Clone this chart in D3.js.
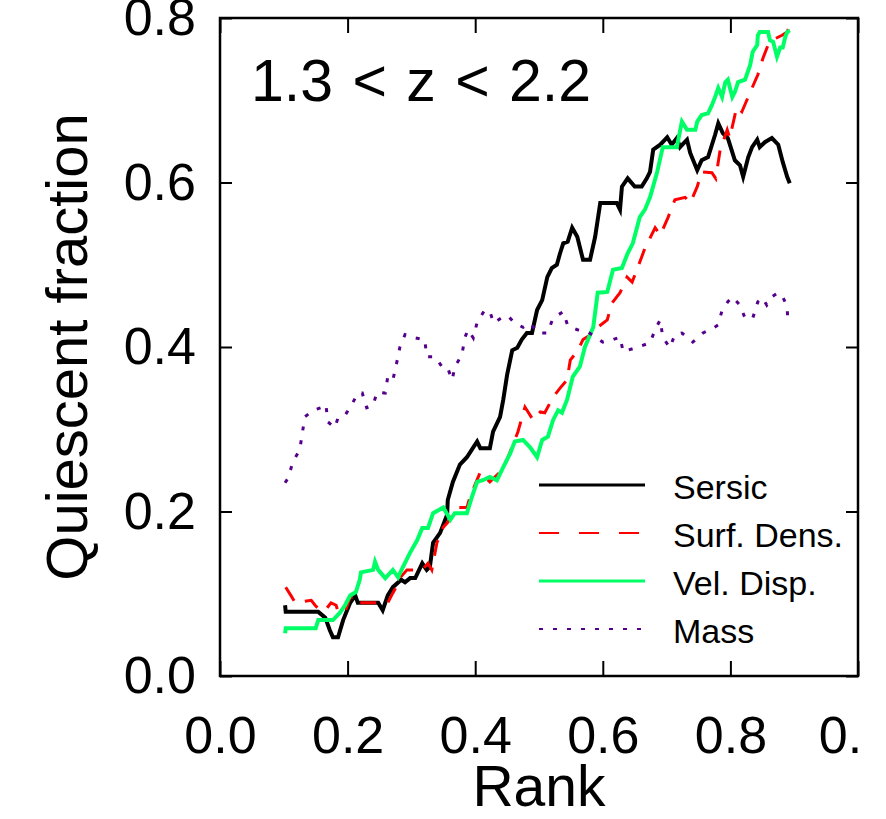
<!DOCTYPE html>
<html>
<head>
<meta charset="utf-8">
<script src="https://cdn.jsdelivr.net/npm/d3@7"></script>
<style>
  body { margin: 0; background: #fff; }
  svg text { font-family: "Liberation Sans", Arial, Helvetica, sans-serif; fill: #000; }
</style>
</head>
<body>
<div id="chart"></div>
<script>
// running quiescent fraction vs. rank as [rank, fraction]
const sersic = [
  [0.102,0.086],[0.103,0.078],[0.154,0.078],[0.165,0.071],[0.172,0.056],[0.177,0.047],[0.185,0.047],
  [0.193,0.068],[0.204,0.089],[0.212,0.098],[0.216,0.089],[0.248,0.089],[0.255,0.080],[0.263,0.098],
  [0.271,0.108],[0.284,0.117],[0.290,0.114],[0.298,0.119],[0.306,0.119],[0.317,0.137],[0.324,0.129],
  [0.329,0.133],[0.334,0.162],[0.345,0.174],[0.356,0.196],[0.357,0.214],[0.365,0.236],[0.376,0.257],
  [0.387,0.266],[0.397,0.278],[0.403,0.285],[0.408,0.277],[0.423,0.277],[0.428,0.297],[0.439,0.315],
  [0.444,0.336],[0.450,0.366],[0.458,0.396],[0.466,0.399],[0.473,0.409],[0.481,0.417],[0.489,0.417],
  [0.497,0.445],[0.505,0.457],[0.513,0.485],[0.520,0.496],[0.528,0.500],[0.533,0.514],[0.538,0.526],
  [0.545,0.528],[0.552,0.545],[0.560,0.534],[0.569,0.506],[0.580,0.506],[0.588,0.534],[0.596,0.575],
  [0.622,0.575],[0.627,0.567],[0.630,0.595],[0.639,0.605],[0.650,0.595],[0.661,0.595],[0.669,0.605],
  [0.674,0.613],[0.679,0.640],[0.690,0.646],[0.701,0.655],[0.708,0.646],[0.716,0.654],[0.721,0.643],
  [0.732,0.652],[0.737,0.636],[0.748,0.615],[0.755,0.627],[0.765,0.631],[0.776,0.658],[0.781,0.672],
  [0.788,0.660],[0.796,0.654],[0.807,0.627],[0.815,0.621],[0.820,0.607],[0.828,0.631],[0.834,0.643],
  [0.842,0.652],[0.846,0.643],[0.854,0.649],[0.865,0.654],[0.875,0.646],[0.882,0.625],[0.889,0.607],
  [0.893,0.599]
];

const surfDens = [
  [0.103,0.108],[0.111,0.098],[0.118,0.089],[0.143,0.092],[0.149,0.086],[0.157,0.080],[0.165,0.080],
  [0.174,0.089],[0.182,0.086],[0.185,0.078],[0.196,0.078],[0.204,0.096],[0.212,0.095],[0.213,0.089],
  [0.252,0.089],[0.263,0.089],[0.271,0.101],[0.276,0.108],[0.282,0.119],[0.293,0.129],[0.317,0.129],
  [0.326,0.137],[0.332,0.129],[0.340,0.162],[0.350,0.181],[0.357,0.187],[0.373,0.205],[0.387,0.205],
  [0.392,0.218],[0.408,0.248],[0.423,0.236],[0.439,0.248],[0.450,0.263],[0.467,0.297],[0.478,0.327],
  [0.491,0.311],[0.502,0.321],[0.509,0.320],[0.522,0.339],[0.533,0.350],[0.544,0.360],[0.549,0.384],
  [0.561,0.396],[0.569,0.409],[0.585,0.417],[0.592,0.424],[0.607,0.433],[0.614,0.453],[0.627,0.466],
  [0.638,0.485],[0.646,0.479],[0.655,0.497],[0.666,0.520],[0.682,0.545],[0.690,0.536],[0.702,0.557],
  [0.713,0.579],[0.729,0.582],[0.737,0.575],[0.748,0.595],[0.755,0.613],[0.771,0.612],[0.777,0.605],
  [0.784,0.640],[0.795,0.664],[0.799,0.654],[0.810,0.692],[0.818,0.686],[0.834,0.715],[0.843,0.731],
  [0.851,0.751],[0.859,0.767],[0.865,0.773],[0.881,0.779],[0.889,0.783],[0.893,0.791]
];

const velDisp = [
  [0.102,0.052],[0.103,0.058],[0.150,0.058],[0.154,0.068],[0.177,0.068],[0.188,0.077],[0.196,0.086],
  [0.204,0.098],[0.213,0.102],[0.219,0.117],[0.221,0.126],[0.240,0.129],[0.243,0.139],[0.248,0.129],
  [0.259,0.119],[0.271,0.129],[0.279,0.120],[0.287,0.133],[0.298,0.150],[0.309,0.165],[0.317,0.180],
  [0.326,0.180],[0.334,0.198],[0.350,0.205],[0.361,0.190],[0.368,0.198],[0.387,0.198],[0.395,0.218],
  [0.403,0.236],[0.412,0.238],[0.423,0.242],[0.434,0.238],[0.444,0.254],[0.455,0.271],[0.462,0.285],
  [0.475,0.287],[0.486,0.278],[0.497,0.266],[0.505,0.287],[0.514,0.291],[0.522,0.311],[0.530,0.323],
  [0.536,0.320],[0.544,0.336],[0.553,0.364],[0.564,0.376],[0.572,0.400],[0.585,0.424],[0.592,0.466],
  [0.607,0.467],[0.616,0.494],[0.630,0.496],[0.639,0.514],[0.647,0.526],[0.658,0.558],[0.666,0.567],
  [0.674,0.582],[0.685,0.612],[0.694,0.643],[0.716,0.643],[0.724,0.674],[0.732,0.664],[0.745,0.664],
  [0.748,0.674],[0.755,0.682],[0.765,0.684],[0.771,0.694],[0.776,0.704],[0.781,0.715],[0.787,0.704],
  [0.792,0.722],[0.796,0.725],[0.803,0.704],[0.807,0.710],[0.812,0.722],[0.823,0.725],[0.831,0.743],
  [0.835,0.759],[0.842,0.767],[0.843,0.779],[0.846,0.783],[0.859,0.783],[0.862,0.773],[0.867,0.771],
  [0.873,0.753],[0.878,0.764],[0.882,0.764],[0.886,0.777],[0.889,0.783],[0.893,0.785]
];

const mass = [
  [0.102,0.235],[0.107,0.241],[0.114,0.260],[0.125,0.275],[0.129,0.295],[0.133,0.315],[0.146,0.323],
  [0.161,0.327],[0.166,0.330],[0.169,0.309],[0.180,0.302],[0.185,0.314],[0.196,0.317],[0.208,0.332],
  [0.216,0.344],[0.223,0.344],[0.230,0.326],[0.240,0.329],[0.246,0.345],[0.259,0.344],[0.263,0.364],
  [0.271,0.360],[0.277,0.381],[0.282,0.400],[0.290,0.415],[0.306,0.411],[0.321,0.409],[0.324,0.388],
  [0.337,0.388],[0.348,0.376],[0.356,0.376],[0.364,0.360],[0.368,0.376],[0.379,0.390],[0.384,0.412],
  [0.389,0.421],[0.397,0.411],[0.403,0.430],[0.415,0.445],[0.423,0.443],[0.429,0.429],[0.442,0.436],
  [0.451,0.438],[0.462,0.429],[0.475,0.424],[0.486,0.429],[0.498,0.417],[0.513,0.417],[0.522,0.435],
  [0.538,0.443],[0.545,0.426],[0.560,0.421],[0.577,0.418],[0.600,0.406],[0.616,0.409],[0.627,0.412],
  [0.632,0.394],[0.639,0.396],[0.655,0.400],[0.674,0.405],[0.682,0.421],[0.690,0.433],[0.694,0.412],
  [0.705,0.399],[0.713,0.415],[0.724,0.417],[0.734,0.411],[0.741,0.406],[0.757,0.417],[0.773,0.423],
  [0.781,0.427],[0.787,0.445],[0.796,0.455],[0.803,0.461],[0.815,0.451],[0.823,0.435],[0.835,0.435],
  [0.843,0.455],[0.850,0.460],[0.857,0.451],[0.865,0.461],[0.875,0.466],[0.882,0.461],[0.889,0.449],
  [0.890,0.430]
];

const seriesNames = ["Sersic", "Surf. Dens.", "Vel. Disp.", "Mass"];
const xTicks = [0, 0.2, 0.4, 0.6, 0.8, 1.0];
const yTicks = [0, 0.2, 0.4, 0.6, 0.8];
const panelLabel = "1.3 < z < 2.2";

const width = 886, height = 819;
const margin = { top: 18, right: 28, bottom: 143, left: 220 };

const svg = d3.select("#chart").append("svg")
    .attr("width", width)
    .attr("height", height);

const x = d3.scaleLinear().domain([0, 1]).range([margin.left, width - margin.right]);
const y = d3.scaleLinear().domain([0, 0.8]).range([height - margin.bottom, margin.top]);

const styles = [
  { data: sersic,   color: "#000000", width: 4,   dash: null,    legendDash: null },
  { data: surfDens, color: "#ff0000", width: 3,   dash: "16,12", legendDash: "20,20" },
  { data: velDisp,  color: "#00ff66", width: 4,   dash: null,    legendDash: null },
  { data: mass,     color: "#55008c", width: 3,   dash: "4,10",  legendDash: "4,10" }
];

const line = d3.line().x(d => x(d[0])).y(d => y(d[1]));

styles.forEach(s => {
  svg.append("path")
      .datum(s.data)
      .attr("fill", "none")
      .attr("stroke", s.color)
      .attr("stroke-width", s.width)
      .attr("stroke-dasharray", s.dash)
      .attr("d", line);
});

// axes, ticks drawn inward like the IDL frame
const fmt = d => d === 1 ? "0." : d3.format(".1f")(d);

const gx = svg.append("g")
    .attr("transform", `translate(0,${y(0)})`)
    .call(d3.axisBottom(x).tickValues(xTicks).tickSize(-15).tickPadding(40).tickFormat(fmt));
gx.selectAll("text").attr("font-size", 52)
    .attr("dx", d => d === 1 ? -18 : 0);

const gy = svg.append("g")
    .attr("transform", `translate(${x(0)},0)`)
    .call(d3.axisLeft(y).tickValues(yTicks).tickSize(-12).tickPadding(24).tickFormat(d3.format(".1f")));
gy.selectAll("text").attr("font-size", 52);

svg.append("g")
    .attr("transform", `translate(0,${y(0.8)})`)
    .call(d3.axisTop(x).tickValues(xTicks).tickSize(-15).tickFormat(""));

svg.append("g")
    .attr("transform", `translate(${x(1)},0)`)
    .call(d3.axisRight(y).tickValues(yTicks).tickSize(-12).tickFormat(""));

svg.selectAll(".domain").remove();
svg.selectAll(".tick line").attr("stroke", "#000").attr("stroke-width", 2);

svg.append("rect")
    .attr("x", x(0)).attr("y", y(0.8))
    .attr("width", x(1) - x(0)).attr("height", y(0) - y(0.8))
    .attr("fill", "none").attr("stroke", "#000").attr("stroke-width", 2.5);

// axis titles
svg.append("text")
    .attr("x", (x(0) + x(1)) / 2)
    .attr("y", 806)
    .attr("text-anchor", "middle")
    .attr("font-size", 57)
    .text("Rank");

svg.append("text")
    .attr("transform", `translate(87,${(y(0) + y(0.8)) / 2}) rotate(-90)`)
    .attr("text-anchor", "middle")
    .attr("font-size", 58)
    .text("Quiescent fraction");

svg.append("text")
    .attr("x", 251)
    .attr("y", 101)
    .attr("font-size", 59)
    .attr("word-spacing", 3)
    .attr("xml:space", "preserve")
    .text(panelLabel);

// legend
const legend = svg.append("g");
styles.forEach((s, i) => {
  const ly = 485 + i * 48;
  legend.append("line")
      .attr("x1", 539).attr("x2", 645)
      .attr("y1", ly).attr("y2", ly)
      .attr("stroke", s.color)
      .attr("stroke-width", s.width - 1)
      .attr("stroke-dasharray", s.legendDash);
  legend.append("text")
      .attr("x", 673)
      .attr("y", ly + 14)
      .attr("font-size", 34)
      .text(seriesNames[i]);
});
</script>
</body>
</html>
